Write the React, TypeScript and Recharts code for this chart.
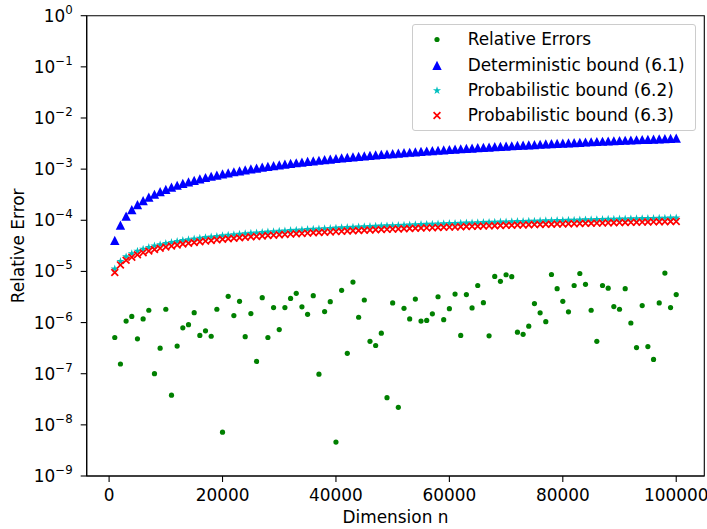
import { ScatterChart, Scatter, XAxis, YAxis, ReferenceArea, Label } from 'recharts'

// dimension n
const dims = [
  1000, 2000, 3000, 4000, 5000, 6000, 7000, 8000, 9000, 10000,
  11000, 12000, 13000, 14000, 15000, 16000, 17000, 18000, 19000, 20000,
  21000, 22000, 23000, 24000, 25000, 26000, 27000, 28000, 29000, 30000,
  31000, 32000, 33000, 34000, 35000, 36000, 37000, 38000, 39000, 40000,
  41000, 42000, 43000, 44000, 45000, 46000, 47000, 48000, 49000, 50000,
  51000, 52000, 53000, 54000, 55000, 56000, 57000, 58000, 59000, 60000,
  61000, 62000, 63000, 64000, 65000, 66000, 67000, 68000, 69000, 70000,
  71000, 72000, 73000, 74000, 75000, 76000, 77000, 78000, 79000, 80000,
  81000, 82000, 83000, 84000, 85000, 86000, 87000, 88000, 89000, 90000,
  91000, 92000, 93000, 94000, 95000, 96000, 97000, 98000, 99000, 100000,
]

const relErrors = [
  5.1e-7, 1.55e-7, 1.07e-6, 1.32e-6, 4.8e-7, 1.18e-6, 1.74e-6, 1.0e-7, 3.16e-7, 1.82e-6,
  3.8e-8, 3.47e-7, 7.9e-7, 9.1e-7, 1.56e-6, 5.6e-7, 6.9e-7, 5.4e-7, 1.82e-6, 7.2e-9,
  3.26e-6, 1.37e-6, 2.6e-6, 5.3e-7, 1.5e-6, 1.74e-7, 3.07e-6, 5.1e-7, 1.96e-6, 7.3e-7,
  1.96e-6, 2.97e-6, 3.73e-6, 2.03e-6, 1.45e-6, 3.36e-6, 9.8e-8, 1.64e-6, 2.56e-6, 4.6e-9,
  4.27e-6, 2.5e-7, 6.2e-6, 1.27e-6, 2.76e-6, 4.3e-7, 3.56e-7, 6.2e-7, 3.4e-8, 2.42e-6,
  2.2e-8, 1.9e-6, 1.18e-6, 2.88e-6, 1.07e-6, 1.1e-6, 1.48e-6, 3.2e-6, 1.14e-6, 1.87e-6,
  3.6e-6, 5.6e-7, 3.52e-6, 1.93e-6, 5.3e-6, 2.45e-6, 5.5e-7, 7.98e-6, 6.4e-6, 8.6e-6,
  7.9e-6, 6.5e-7, 5.9e-7, 8.5e-7, 2.35e-6, 1.55e-6, 1.04e-6, 8.7e-6, 4.6e-6, 2.6e-6,
  1.62e-6, 5.3e-6, 9.1e-6, 5.6e-6, 1.74e-6, 4.3e-7, 5.3e-6, 4.7e-6, 2.05e-6, 1.82e-6,
  4.6e-6, 9.8e-7, 3.25e-7, 2.15e-6, 3.4e-7, 1.9e-7, 2.42e-6, 9.3e-6, 1.96e-6, 3.52e-6,
]

// bounds below are in units of 1e-5
const UNIT = 1e-5

const detBound = [
  4, 8, 12, 16, 20, 24, 28, 32, 36, 40,
  44, 48, 52, 56, 60, 64, 68, 72, 76, 80,
  84, 88, 92, 96, 100, 104, 108, 112, 116, 120,
  124, 128, 132, 136, 140, 144, 148, 152, 156, 160,
  164, 168, 172, 176, 180, 184, 188, 192, 196, 200,
  204, 208, 212, 216, 220, 224, 228, 232, 236, 240,
  244, 248, 252, 256, 260, 264, 268, 272, 276, 280,
  284, 288, 292, 296, 300, 304, 308, 312, 316, 320,
  324, 328, 332, 336, 340, 344, 348, 352, 356, 360,
  364, 368, 372, 376, 380, 384, 388, 392, 396, 400,
]

const probBound62 = [
  1.12, 1.58, 1.94, 2.24, 2.50, 2.74, 2.96, 3.17, 3.36, 3.54,
  3.71, 3.88, 4.04, 4.19, 4.34, 4.48, 4.62, 4.75, 4.88, 5.01,
  5.13, 5.25, 5.37, 5.49, 5.60, 5.71, 5.82, 5.93, 6.03, 6.13,
  6.24, 6.34, 6.43, 6.53, 6.63, 6.72, 6.81, 6.90, 6.99, 7.08,
  7.17, 7.26, 7.34, 7.43, 7.51, 7.60, 7.68, 7.76, 7.84, 7.92,
  8.00, 8.08, 8.15, 8.23, 8.31, 8.38, 8.46, 8.53, 8.60, 8.68,
  8.75, 8.82, 8.89, 8.96, 9.03, 9.10, 9.17, 9.24, 9.30, 9.37,
  9.44, 9.50, 9.57, 9.63, 9.70, 9.76, 9.83, 9.89, 9.96, 10.02,
  10.08, 10.14, 10.20, 10.27, 10.33, 10.39, 10.45, 10.51, 10.57, 10.63,
  10.68, 10.74, 10.80, 10.86, 10.92, 10.97, 11.03, 11.09, 11.14, 11.20,
]

const probBound63 = [
  0.95, 1.34, 1.65, 1.90, 2.12, 2.33, 2.51, 2.69, 2.85, 3.00,
  3.15, 3.29, 3.43, 3.56, 3.68, 3.80, 3.92, 4.03, 4.14, 4.25,
  4.35, 4.46, 4.56, 4.65, 4.75, 4.84, 4.94, 5.03, 5.12, 5.20,
  5.29, 5.37, 5.46, 5.54, 5.62, 5.70, 5.78, 5.86, 5.93, 6.01,
  6.08, 6.16, 6.23, 6.30, 6.37, 6.44, 6.51, 6.58, 6.65, 6.72,
  6.78, 6.85, 6.92, 6.98, 7.05, 7.11, 7.17, 7.24, 7.30, 7.36,
  7.42, 7.48, 7.54, 7.60, 7.66, 7.72, 7.78, 7.83, 7.89, 7.95,
  8.01, 8.06, 8.12, 8.17, 8.23, 8.28, 8.34, 8.39, 8.44, 8.50,
  8.55, 8.60, 8.66, 8.71, 8.76, 8.81, 8.86, 8.91, 8.96, 9.01,
  9.06, 9.11, 9.16, 9.21, 9.26, 9.31, 9.36, 9.40, 9.45, 9.50,
]

const xTicks = [0, 20000, 40000, 60000, 80000, 100000]
const yTicks = [1e-9, 1e-8, 1e-7, 1e-6, 1e-5, 1e-4, 1e-3, 1e-2, 1e-1, 1]
const seriesNames = ['Relative Errors', 'Deterministic bound (6.1)', 'Probabilistic bound (6.2)', 'Probabilistic bound (6.3)']

const X_MIN = -3950
const X_MAX = 104950

const FONT = '"DejaVu Sans", sans-serif'
const FS = 16.9

const errData = dims.map((n, i) => ({ n, v: relErrors[i] }))
const detData = dims.map((n, i) => ({ n, v: detBound[i] * UNIT }))
const p62Data = dims.map((n, i) => ({ n, v: probBound62[i] * UNIT }))
const p63Data = dims.map((n, i) => ({ n, v: probBound63[i] * UNIT }))

const GREEN = '#008000'
const BLUE = '#0000ff'
const CYAN = '#00bfbf'
const RED = '#ff0000'

function starPoints(cx: number, cy: number, R: number) {
  const r = R * 0.382
  const pts: string[] = []
  for (let k = 0; k < 10; k++) {
    const a = -Math.PI / 2 + (k * Math.PI) / 5
    const rr = k % 2 === 0 ? R : r
    pts.push(`${cx + rr * Math.cos(a)},${cy + rr * Math.sin(a)}`)
  }
  return pts.join(' ')
}

const Dot = ({ cx, cy, color = GREEN }: any) => <circle cx={cx} cy={cy} r={2.6} fill={color} />
const Tri = ({ cx, cy, color = BLUE }: any) => (
  <polygon points={`${cx},${cy - 4.8} ${cx - 4.7},${cy + 4.4} ${cx + 4.7},${cy + 4.4}`} fill={color} />
)
const Star = ({ cx, cy, color = CYAN }: any) => <polygon points={starPoints(cx, cy, 4.3)} fill={color} />
const Cross = ({ cx, cy, color = RED }: any) => (
  <g stroke={color} strokeWidth={1.7}>
    <line x1={cx - 3.4} y1={cy - 3.4} x2={cx + 3.4} y2={cy + 3.4} />
    <line x1={cx - 3.4} y1={cy + 3.4} x2={cx + 3.4} y2={cy - 3.4} />
  </g>
)

const legendIcons = [Dot, Tri, Star, Cross]

const YTick = ({ x, y, payload }: any) => {
  const exp = Math.round(Math.log10(payload.value))
  return (
    <text x={x} y={y + 6} textAnchor="end" fontFamily={FONT} fontSize={FS} fill="#000">
      <tspan>10</tspan>
      <tspan dy={-8} fontSize={11.8}>{exp < 0 ? `\u2212${-exp}` : exp}</tspan>
    </text>
  )
}

const XTick = ({ x, y, payload }: any) => (
  <text x={x} y={y} dy="0.71em" textAnchor="middle" fontFamily={FONT} fontSize={FS} fill="#000">
    {payload.value}
  </text>
)

function ChartLegend() {
  return (
    <div
      style={{
        position: 'absolute',
        left: 411.7,
        top: 24.3,
        width: 284.3,
        height: 106.7,
        boxSizing: 'border-box',
        border: '1.3px solid #cccccc',
        borderRadius: 3,
        background: 'rgba(255,255,255,0.8)',
        fontFamily: FONT,
        fontSize: FS,
        color: '#000',
      }}
    >
      {seriesNames.map((name, i) => {
        const Icon = legendIcons[i]
        return (
          <div
            key={name}
            style={{ position: 'absolute', left: 0, top: 14.7 + i * 25.3 - 12.5, height: 25, display: 'flex', alignItems: 'center' }}
          >
            <svg width={48} height={25} style={{ display: 'block' }}>
              <Icon cx={24} cy={12.5} />
            </svg>
            <span style={{ marginLeft: 7, whiteSpace: 'nowrap', lineHeight: '25px' }}>{name}</span>
          </div>
        )
      })}
    </div>
  )
}

export default function App() {
  return (
    <div style={{ position: 'absolute', left: 0, top: 0, width: 707, height: 529, background: '#fff' }}>
      <ScatterChart width={707} height={529} margin={{ top: 15.7, right: 2.7, bottom: 0, left: 0 }}>
        <XAxis
          type="number"
          dataKey="n"
          domain={[X_MIN, X_MAX]}
          ticks={xTicks}
          allowDataOverflow
          height={53}
          tick={<XTick />}
          tickSize={6}
          tickMargin={7}
          axisLine={{ stroke: '#000', strokeWidth: 1.1 }}
          tickLine={{ stroke: '#000', strokeWidth: 1.1 }}
        >
          <Label
            content={({ viewBox }: any) => (
              <text
                x={viewBox.x + viewBox.width / 2}
                y={viewBox.y + 47}
                textAnchor="middle"
                fontFamily={FONT}
                fontSize={FS}
                fill="#000"
              >
                Dimension n
              </text>
            )}
          />
        </XAxis>
        <YAxis
          type="number"
          dataKey="v"
          scale="log"
          domain={[1e-9, 1]}
          ticks={yTicks}
          allowDataOverflow
          width={86.7}
          tick={<YTick />}
          tickSize={6}
          tickMargin={8}
          axisLine={{ stroke: '#000', strokeWidth: 1.1 }}
          tickLine={{ stroke: '#000', strokeWidth: 1.1 }}
        >
          <Label
            content={({ viewBox }: any) => {
              const cx = 18.3
              const cy = viewBox.y + viewBox.height / 2
              return (
                <text
                  x={cx}
                  y={cy}
                  transform={`rotate(-90 ${cx} ${cy})`}
                  dominantBaseline="central"
                  textAnchor="middle"
                  fontFamily={FONT}
                  fontSize={FS}
                  fill="#000"
                >
                  Relative Error
                </text>
              )
            }}
          />
        </YAxis>
        <ReferenceArea
          x1={X_MIN}
          x2={X_MAX}
          y1={1e-9}
          y2={1}
          fill="none"
          stroke="#000"
          strokeWidth={1.1}
          ifOverflow="visible"
        />
        <Scatter name={seriesNames[0]} data={errData} shape={<Dot />} isAnimationActive={false} />
        <Scatter name={seriesNames[1]} data={detData} shape={<Tri />} isAnimationActive={false} />
        <Scatter name={seriesNames[2]} data={p62Data} shape={<Star />} isAnimationActive={false} />
        <Scatter name={seriesNames[3]} data={p63Data} shape={<Cross />} isAnimationActive={false} />
      </ScatterChart>
      <ChartLegend />
    </div>
  )
}
